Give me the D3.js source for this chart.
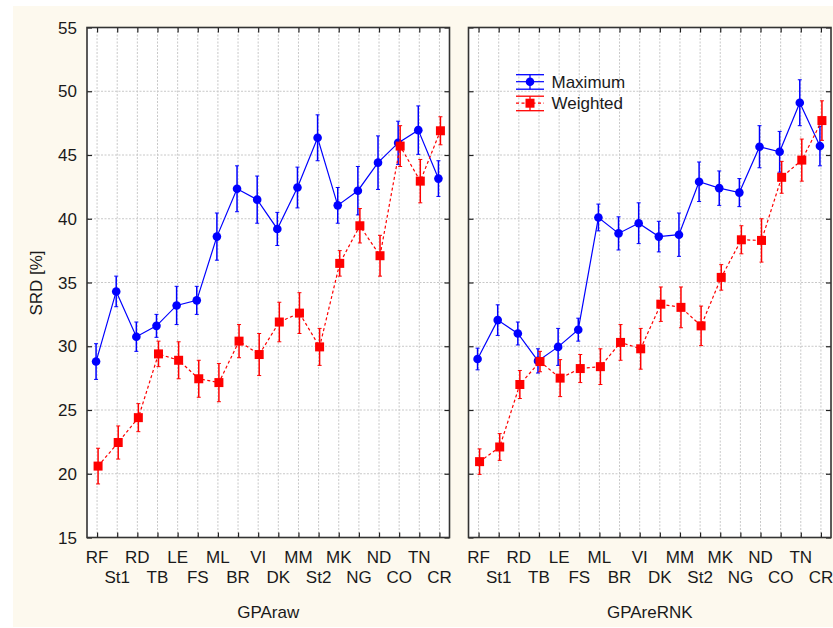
<!DOCTYPE html>
<html>
<head>
<meta charset="utf-8">
<script src="https://cdn.jsdelivr.net/npm/d3@7"></script>
<style>
  html, body { margin: 0; padding: 0; background: #ffffff; }
  svg { display: block; }
  text { font-family: "Liberation Sans", Arial, sans-serif; fill: #1a1a1a; }
</style>
</head>
<body>
<svg id="chart" width="833" height="628"></svg>
<script>
const categories = ["RF","St1","RD","TB","LE","FS","ML","BR","VI","DK","MM","St2","MK","NG","ND","CO","TN","CR"];
const yTicks = [15, 20, 25, 30, 35, 40, 45, 50, 55];
const panelTitles = ["GPAraw", "GPAreRNK"];
const seriesNames = ["Maximum", "Weighted"];

const rawMax    = [28.8,34.3,30.75,31.6,33.2,33.6,38.6,42.35,41.5,39.2,42.45,46.35,41.05,42.2,44.4,45.95,46.95,43.15];
const rawMaxErr = [1.4,1.2,1.15,0.9,1.5,1.1,1.85,1.8,1.85,1.3,1.6,1.8,1.4,1.9,2.1,1.7,1.9,1.4];
const rawW      = [20.6,22.45,24.4,29.4,28.9,27.45,27.15,30.4,29.35,31.9,32.6,29.95,36.5,39.45,37.1,45.7,42.95,46.9];
const rawWErr   = [1.4,1.3,1.1,1.0,1.45,1.45,1.5,1.3,1.65,1.55,1.6,1.45,1.0,1.35,1.6,1.6,1.7,1.1];

const reMax     = [29.0,32.05,31.0,28.85,29.95,31.3,40.1,38.85,39.65,38.6,38.75,42.9,42.4,42.05,45.65,45.25,49.1,45.7];
const reMaxErr  = [0.85,1.2,0.9,0.95,1.45,0.9,1.05,1.3,1.6,1.2,1.7,1.55,1.35,1.1,1.65,1.6,1.8,1.55];
const reW       = [20.95,22.1,27.0,28.8,27.5,28.25,28.4,30.3,29.8,33.3,33.05,31.6,35.4,38.35,38.3,43.25,44.6,47.7];
const reWErr    = [1.0,1.05,1.1,0.8,1.45,1.1,1.4,1.4,1.6,1.35,1.6,1.55,1.0,1.1,1.7,1.25,1.65,1.55];

const panels = [
  { title: panelTitles[0], x0: 87, x1: 449.5, series: [
      { name: seriesNames[0], vals: rawMax, errs: rawMaxErr },
      { name: seriesNames[1], vals: rawW, errs: rawWErr } ] },
  { title: panelTitles[1], x0: 468.5, x1: 831, series: [
      { name: seriesNames[0], vals: reMax, errs: reMaxErr },
      { name: seriesNames[1], vals: reW, errs: reWErr } ] }
];

const styles = [
  { color: "#0000ff", dash: null, marker: "circle", dx: -1 },
  { color: "#ff0000", dash: "3,2.5", marker: "square", dx: 1 }
];

const svg = d3.select("#chart");
const yTop = 27.5, yBot = 537.5;
const y = d3.scaleLinear().domain([15, 55]).range([yBot, yTop]);

// background
svg.append("rect").attr("x", 13).attr("y", 6).attr("width", 820).attr("height", 621).attr("fill", "#fdf9ee");

panels.forEach((p, pi) => {
  const x = d3.scalePoint().domain(categories).range([p.x0, p.x1]).padding(0.5);
  const g = svg.append("g");

  g.append("rect").attr("x", p.x0).attr("y", yTop).attr("width", p.x1 - p.x0).attr("height", yBot - yTop).attr("fill", "#ffffff");

  // grid
  g.selectAll(".vg").data(categories).enter().append("line")
    .attr("x1", d => x(d)).attr("x2", d => x(d)).attr("y1", yTop).attr("y2", yBot)
    .attr("stroke", "#c8c8c8").attr("stroke-width", 1).attr("stroke-dasharray", "2,1.5");
  g.selectAll(".hg").data(yTicks.slice(1, -1)).enter().append("line")
    .attr("x1", p.x0).attr("x2", p.x1).attr("y1", d => y(d)).attr("y2", d => y(d))
    .attr("stroke", "#c8c8c8").attr("stroke-width", 1).attr("stroke-dasharray", "2,1.5");

  // axes with inward ticks
  const axB = d3.axisTop(x).tickSize(5).tickFormat("");
  const axT = d3.axisBottom(x).tickSize(5).tickFormat("");
  const axL = d3.axisRight(y).tickValues(yTicks).tickSize(5).tickFormat("");
  const axR = d3.axisLeft(y).tickValues(yTicks).tickSize(5).tickFormat("");
  [[axB, `translate(0,${yBot})`], [axT, `translate(0,${yTop})`], [axL, `translate(${p.x0},0)`], [axR, `translate(${p.x1},0)`]]
    .forEach(([ax, tr]) => {
      const a = g.append("g").attr("transform", tr).call(ax);
      a.select(".domain").remove();
      a.selectAll(".tick line").attr("stroke", "#222").attr("stroke-width", 1.2);
    });

  // series
  p.series.forEach((s, si) => {
    const st = styles[si];
    const pts = categories.map((c, i) => ({ c, v: s.vals[i], e: s.errs[i], px: x(c) + st.dx }));
    const line = d3.line().x(d => d.px).y(d => y(d.v));
    g.append("path").datum(pts).attr("d", line).attr("fill", "none")
      .attr("stroke", st.color).attr("stroke-width", 1.2)
      .attr("stroke-dasharray", st.dash);
    const eg = g.append("g").attr("stroke", st.color).attr("stroke-width", 1.5);
    pts.forEach(d => {
      eg.append("line").attr("x1", d.px).attr("x2", d.px).attr("y1", y(d.v - d.e)).attr("y2", y(d.v + d.e));
      eg.append("line").attr("x1", d.px - 2).attr("x2", d.px + 2).attr("y1", y(d.v - d.e)).attr("y2", y(d.v - d.e)).attr("stroke-width", 1);
      eg.append("line").attr("x1", d.px - 2).attr("x2", d.px + 2).attr("y1", y(d.v + d.e)).attr("y2", y(d.v + d.e)).attr("stroke-width", 1);
    });
    if (st.marker === "circle") {
      g.selectAll(null).data(pts).enter().append("circle")
        .attr("cx", d => d.px).attr("cy", d => y(d.v)).attr("r", 4.3).attr("fill", st.color);
    } else {
      g.selectAll(null).data(pts).enter().append("rect")
        .attr("x", d => d.px - 4.5).attr("y", d => y(d.v) - 4.5).attr("width", 9).attr("height", 9).attr("fill", st.color);
    }
  });

  // border
  g.append("rect").attr("x", p.x0).attr("y", yTop).attr("width", p.x1 - p.x0).attr("height", yBot - yTop)
    .attr("fill", "none").attr("stroke", "#333").attr("stroke-width", 1.6);

  // x tick labels, staggered
  g.selectAll(".xl").data(categories).enter().append("text")
    .attr("x", d => x(d)).attr("y", (d, i) => i % 2 === 0 ? 563 : 583)
    .attr("text-anchor", "middle").attr("font-size", 17).text(d => d);

  g.append("text").attr("x", (p.x0 + p.x1) / 2).attr("y", 618).attr("text-anchor", "middle")
    .attr("font-size", 17).text(p.title);

  if (pi === 0) {
    g.selectAll(".yl").data(yTicks).enter().append("text")
      .attr("x", 77).attr("y", d => y(d) + 6).attr("text-anchor", "end").attr("font-size", 17).text(d => d);
    g.append("text").attr("transform", `translate(42,${283}) rotate(-90)`).attr("text-anchor", "middle")
      .attr("font-size", 17).text("SRD [%]");
  }

  if (pi === 1) {
    const lg = g.append("g");
    seriesNames.forEach((nm, k) => {
      const st = styles[k];
      const cy = 81.7 + k * 21.5;
      const lx0 = 516, lx1 = 544, cx = 530;
      lg.append("line").attr("x1", lx0).attr("x2", lx1).attr("y1", cy - 7).attr("y2", cy - 7).attr("stroke", st.color).attr("stroke-width", 1.3);
      lg.append("line").attr("x1", lx0).attr("x2", lx1).attr("y1", cy + 7.5).attr("y2", cy + 7.5).attr("stroke", st.color).attr("stroke-width", 1.3);
      lg.append("line").attr("x1", cx).attr("x2", cx).attr("y1", cy - 7).attr("y2", cy + 7.5).attr("stroke", st.color).attr("stroke-width", 1.3);
      lg.append("line").attr("x1", lx0).attr("x2", lx1).attr("y1", cy).attr("y2", cy).attr("stroke", st.color).attr("stroke-width", 1.2).attr("stroke-dasharray", st.dash);
      if (st.marker === "circle") lg.append("circle").attr("cx", cx).attr("cy", cy).attr("r", 4.3).attr("fill", st.color);
      else lg.append("rect").attr("x", cx - 4.5).attr("y", cy - 4.5).attr("width", 9).attr("height", 9).attr("fill", st.color);
      lg.append("text").attr("x", 551.5).attr("y", cy + 6).attr("font-size", 17).text(nm);
    });
  }
});
</script>
</body>
</html>
